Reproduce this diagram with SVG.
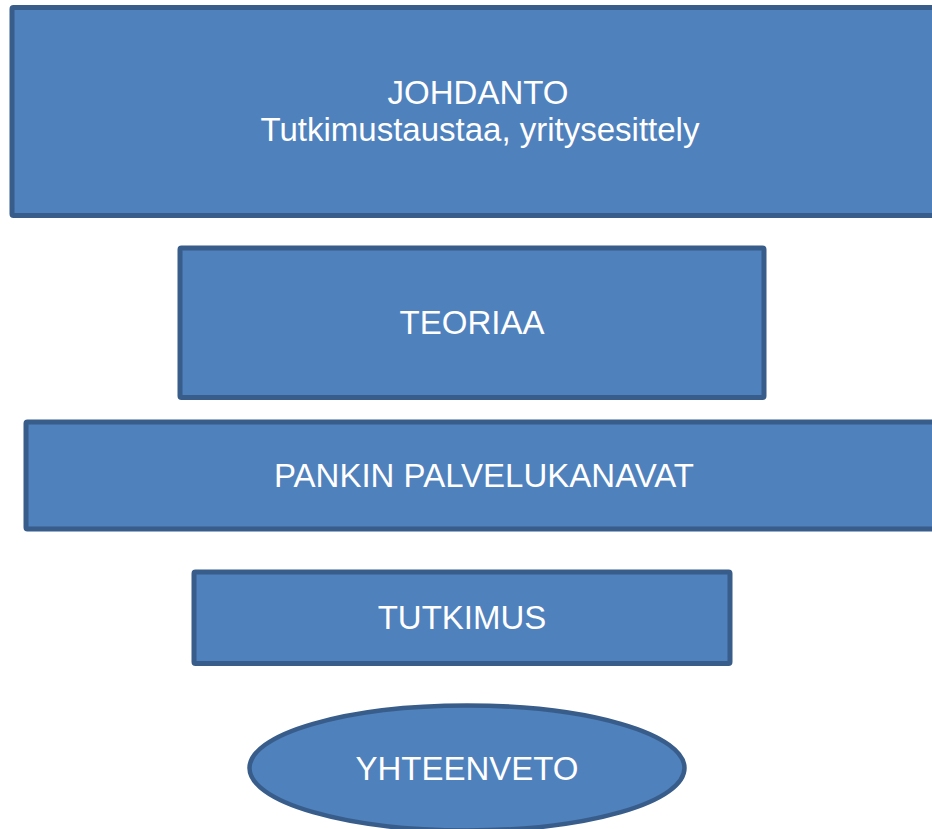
<svg xmlns="http://www.w3.org/2000/svg" width="932" height="829" viewBox="0 0 932 829">
<style>
.box{fill:#4F81BD;stroke:#385D8A;stroke-width:5;stroke-linejoin:round}
.oval{fill:#4F81BD;stroke:#385D8A;stroke-width:4.5}
.t{font-family:"Liberation Sans",Arial,sans-serif;font-size:33px;fill:#FFFFFF;text-anchor:middle}
</style>
<rect width="932" height="829" fill="#FFFFFF"/>
<g id="johdanto">
<rect class="box" x="12" y="7.5" width="934" height="208" rx="1.5"/>
<text class="t" x="478" y="104">JOHDANTO</text>
<text class="t" x="480" y="141">Tutkimustaustaa, yritysesittely</text>
</g>
<g id="teoriaa">
<rect class="box" x="180" y="248" width="584" height="149.5" rx="1.5"/>
<text class="t" x="472" y="334">TEORIAA</text>
</g>
<g id="pankin">
<rect class="box" x="26" y="422" width="916" height="107" rx="1.5"/>
<text class="t" x="484" y="487">PANKIN PALVELUKANAVAT</text>
</g>
<g id="tutkimus">
<rect class="box" x="194" y="572" width="536" height="91.5" rx="1.5"/>
<text class="t" x="462" y="629">TUTKIMUS</text>
</g>
<g id="yhteenveto">
<ellipse class="oval" cx="467" cy="768" rx="217.5" ry="62.5"/>
<text class="t" x="467" y="780">YHTEENVETO</text>
</g>
<g id="connectors"/>
</svg>
